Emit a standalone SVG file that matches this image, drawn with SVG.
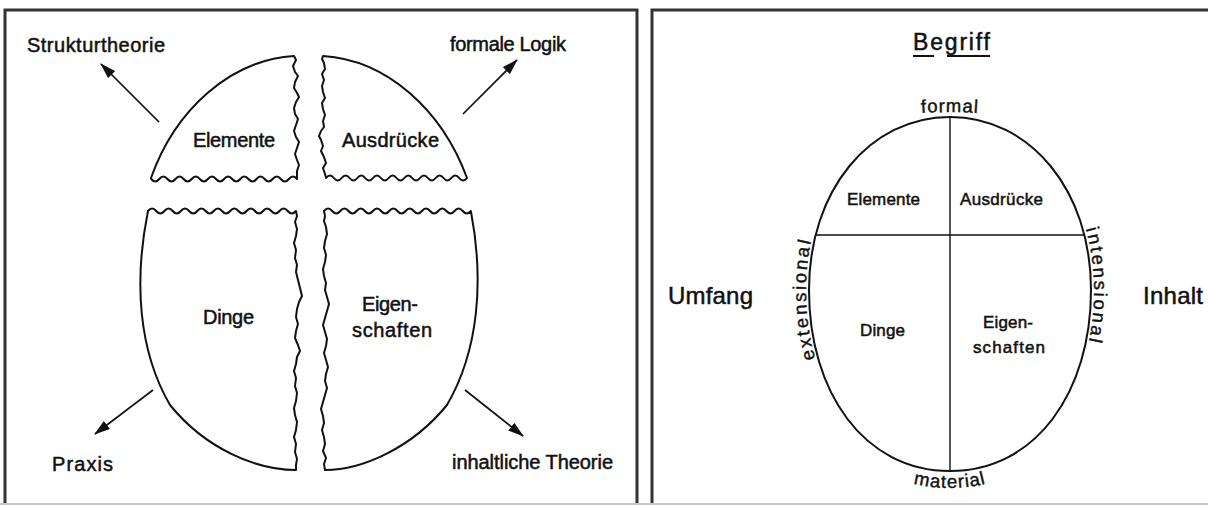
<svg xmlns="http://www.w3.org/2000/svg" width="1208" height="507" viewBox="0 0 1208 507">
<style>
  text { font-family: "Liberation Sans", Arial, sans-serif; fill: #111; stroke: #111; stroke-width: 0.5; }
  .lbl { font-size: 20px; }
  .sm { font-size: 17px; }
  .big { font-size: 24px; }
  .curv { font-size: 18.5px; stroke-width: 0.4; }
  .piece { fill: none; stroke: #111; stroke-width: 2; stroke-linejoin: round; }
  .arrow { fill: none; stroke: #111; stroke-width: 1.7; marker-end: url(#ah); }
  .frame { fill: none; stroke: #333; stroke-width: 3; }
  .ell { fill: none; stroke: #111; stroke-width: 2; }
  .div { stroke: #111; stroke-width: 1.4; }
  .ul { stroke: #111; stroke-width: 2; }
</style>
<defs>
  <marker id="ah" viewBox="0 0 16 10" refX="15" refY="5" markerWidth="16" markerHeight="10" markerUnits="userSpaceOnUse" orient="auto">
    <path d="M0,0 L16,5 L0,10 Z" fill="#111"/>
  </marker>
  <path id="p-formal" d="M885,117 Q950,107 1015,117"/>
  <path id="p-ext" d="M950,474 C862,474 806,392 806,290 C806,188 870,114 950,114"/>
  <path id="p-int" d="M950,114 C1030,114 1094,188 1094,290 C1094,392 1038,474 950,474"/>
  <path id="p-mat" d="M794,290 C794,404 856,488 950,488 C1044,488 1106,404 1106,290"/>
</defs>
<rect x="0" y="0" width="1208" height="507" fill="#fff"/>

<g id="frames">
  <path class="frame" d="M5,503 V10 H637 V503"/>
  <path class="frame" d="M652,503 V10 H1212"/>
  <path d="M0,504 H1208" stroke="#c8c8c8" stroke-width="2"/>
</g>

<!-- Left panel -->
<g id="elemente-piece">
  <path class="piece" d="M151,178 C175,110 230,60 294,56 L296,60 L293,66 L295,72 L298,76 L295,82 L294,88 L297,93 L299,97 L296,102 L294,108 L295,114 L298,119 L296,125 L294,131 L296,137 L299,142 L297,148 L295,154 L297,160 L299,165 L297,171 L297,179 q-4.05,-5 -8.1,0 t-8.1,0 t-8.1,0 t-8.1,0 t-8.1,0 t-8.1,0 t-8.1,0 t-8.1,0 t-8.1,0 t-8.1,0 t-8.1,0 t-8.1,0 t-8.1,0 t-8.1,0 t-8.1,0 t-8.1,0 t-8.1,0 t-8.1,0 Z"/>
  <text class="lbl" x="193" y="147" textLength="82">Elemente</text>
</g>
<g id="ausdruecke-piece">
  <path class="piece" d="M323,56 C387,60 442,110 467,178 q-3.92,5 -7.83,0 t-7.83,0 t-7.83,0 t-7.83,0 t-7.83,0 t-7.83,0 t-7.83,0 t-7.83,0 t-7.83,0 t-7.83,0 t-7.83,0 t-7.83,0 t-7.83,0 t-7.83,0 t-7.83,0 t-7.83,0 t-7.83,0 t-7.83,0 L325,174 L323,168 L326,163 L324,157 L321,151 L323,146 L321,140 L319,136 L321,131 L324,127 L323,121 L325,115 L323,109 L322,103 L325,98 L323,92 L322,86 L324,80 L322,74 L325,69 L324,63 L322,59 Z"/>
  <text class="lbl" x="342" y="147" textLength="97">Ausdrücke</text>
</g>
<g id="dinge-piece">
  <path class="piece" d="M148,211 q4.11,-5 8.22,0 t8.22,0 t8.22,0 t8.22,0 t8.22,0 t8.22,0 t8.22,0 t8.22,0 t8.22,0 t8.22,0 t8.22,0 t8.22,0 t8.22,0 t8.22,0 t8.22,0 t8.22,0 t8.22,0 t8.22,0 L297,216 L295,222 L297,229 L296,236 L294,243 L296,250 L295,258 L297,265 L296,272 L298,280 L300,288 L302,296 L299,302 L297,309 L296,317 L298,324 L296,331 L295,338 L298,345 L300,351 L297,357 L296,364 L294,371 L296,378 L295,386 L297,393 L296,401 L294,408 L295,415 L297,422 L296,430 L294,437 L296,444 L295,452 L297,459 L296,465 L296,470 C255,470 205,448 170,405 C138,350 134,280 148,211 Z"/>
  <text class="lbl" x="203" y="324" textLength="51">Dinge</text>
</g>
<g id="eigenschaften-piece">
  <path class="piece" d="M324,211 q4.08,-5 8.16,0 t8.16,0 t8.16,0 t8.16,0 t8.16,0 t8.16,0 t8.16,0 t8.16,0 t8.16,0 t8.16,0 t8.16,0 t8.16,0 t8.16,0 t8.16,0 t8.16,0 t8.16,0 t8.16,0 t8.16,0 C484,280 479,350 447,405 C412,448 362,470 325,470 L324,464 L326,458 L323,451 L325,444 L324,437 L322,430 L324,423 L323,416 L321,409 L323,402 L325,395 L327,388 L325,381 L326,374 L328,367 L326,360 L324,353 L326,346 L327,339 L325,332 L323,325 L325,318 L327,311 L329,304 L327,297 L325,290 L326,283 L324,276 L323,269 L325,262 L326,255 L324,248 L325,241 L327,234 L326,227 L324,221 L325,216 Z"/>
  <text class="lbl" x="362" y="311" textLength="56">Eigen-</text>
  <text class="lbl" x="352" y="337" textLength="80">schaften</text>
</g>
<g id="strukturtheorie">
  <text class="lbl" x="27" y="52" textLength="138">Strukturtheorie</text>
</g>
<g id="formale-logik">
  <text class="lbl" x="450" y="51" textLength="116">formale Logik</text>
</g>
<g id="praxis">
  <text class="lbl" x="52" y="471" textLength="61">Praxis</text>
</g>
<g id="inhaltliche-theorie">
  <text class="lbl" x="452" y="469" textLength="161">inhaltliche Theorie</text>
</g>

<g id="connectors">
  <line class="arrow" x1="159" y1="122" x2="101" y2="64"/>
  <line class="arrow" x1="463" y1="114" x2="517" y2="60"/>
  <line class="arrow" x1="153" y1="390" x2="95" y2="434"/>
  <line class="arrow" x1="465" y1="390" x2="523" y2="436"/>
</g>

<!-- Right panel -->
<g id="begriff">
  <text x="913" y="50" font-size="23" textLength="77">Begriff</text>
  <line class="ul" x1="913" y1="56" x2="934" y2="56"/>
  <line class="ul" x1="947" y1="56" x2="990" y2="56"/>
</g>
<g id="begriff-ellipse">
  <path class="ell" d="M950,117 C870,117 809,190 809,290 C809,392 864,471 950,471 C1036,471 1091,392 1091,290 C1091,190 1030,117 950,117 Z"/>
  <line class="div" x1="950" y1="117" x2="950" y2="471"/>
  <line class="div" x1="815" y1="235" x2="1085" y2="235"/>
</g>
<g id="r-elemente"><text class="sm" x="847" y="205" textLength="73">Elemente</text></g>
<g id="r-ausdruecke"><text class="sm" x="960" y="205" textLength="83">Ausdrücke</text></g>
<g id="r-dinge"><text class="sm" x="860" y="336" textLength="45">Dinge</text></g>
<g id="r-eigenschaften">
  <text class="sm" x="983" y="328" textLength="50">Eigen-</text>
  <text class="sm" x="973" y="353" textLength="72">schaften</text>
</g>
<g id="formal"><text class="curv" letter-spacing="1"><textPath href="#p-formal" startOffset="50%" text-anchor="middle">formal</textPath></text></g>
<g id="extensional"><text class="curv" letter-spacing="2.5"><textPath href="#p-ext" startOffset="49%" text-anchor="middle">extensional</textPath></text></g>
<g id="intensional"><text class="curv" letter-spacing="2.5"><textPath href="#p-int" startOffset="48.5%" text-anchor="middle">intensional</textPath></text></g>
<g id="material"><text class="curv" letter-spacing="1"><textPath href="#p-mat" startOffset="50%" text-anchor="middle">material</textPath></text></g>
<g id="umfang"><text class="big" x="668" y="304" textLength="85">Umfang</text></g>
<g id="inhalt"><text class="big" x="1143" y="304" textLength="60">Inhalt</text></g>
</svg>
